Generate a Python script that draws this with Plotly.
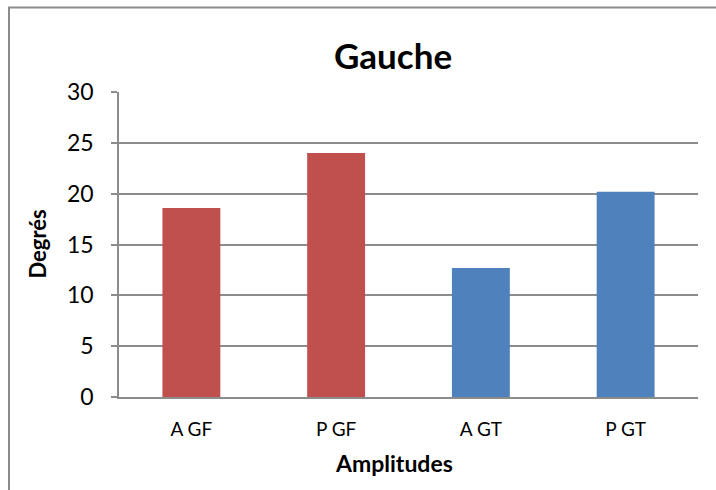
import plotly.graph_objects as go

# Data
categories = ["A GF", "P GF", "A GT", "P GT"]
values = [18.6, 24.0, 12.7, 20.2]
bar_colors = ["#C0504D", "#C0504D", "#4F81BD", "#4F81BD"]
y_ticks = [0, 5, 10, 15, 20, 25, 30]

FONT = "Lato"
GRID = "#8C8C8C"

L, R, T, B = 119, 18, 92, 93
PW = 716 - L - R
PH = 490 - T - B


def px_x(x):
    return (x - L) / PW


def px_y(y):
    return (490 - B - y) / PH


fig = go.Figure(
    go.Bar(
        x=categories,
        y=values,
        marker=dict(color=bar_colors, line=dict(width=0)),
        width=0.4,
        hoverinfo="x+y",
    )
)

fig.update_layout(
    width=716,
    height=490,
    margin=dict(l=L, r=R, t=T, b=B),
    paper_bgcolor="white",
    plot_bgcolor="white",
    showlegend=False,
    font=dict(family=FONT, color="black"),
    xaxis=dict(
        showline=True,
        linecolor=GRID,
        linewidth=1.5,
        showgrid=False,
        ticks="",
        tickfont=dict(size=19, family=FONT),
        ticklabelstandoff=14,
        fixedrange=True,
    ),
    yaxis=dict(
        range=[0, 30],
        tickvals=y_ticks,
        showline=True,
        linecolor=GRID,
        linewidth=1.5,
        showgrid=True,
        gridcolor=GRID,
        gridwidth=1.5,
        ticks="outside",
        ticklen=6,
        tickcolor=GRID,
        tickwidth=1.5,
        tickfont=dict(size=23, family=FONT),
        ticklabelstandoff=13,
        zeroline=False,
        fixedrange=True,
    ),
    shapes=[
        # chart-area frame
        dict(
            type="rect",
            xref="paper",
            yref="paper",
            x0=px_x(9),
            x1=1.2,
            y0=-0.4,
            y1=px_y(7.5),
            line=dict(color="#8C8C8C", width=2),
            fillcolor="rgba(0,0,0,0)",
            layer="below",
        )
    ],
    annotations=[
        dict(
            text="<b>Gauche</b>",
            xref="paper",
            yref="paper",
            x=px_x(393),
            y=px_y(55),
            xanchor="center",
            yanchor="middle",
            showarrow=False,
            font=dict(size=35, family=FONT),
        ),
        dict(
            text="<b>Degrés</b>",
            xref="paper",
            yref="paper",
            x=px_x(37),
            y=0.5,
            xanchor="center",
            yanchor="middle",
            textangle=-90,
            showarrow=False,
            font=dict(size=22, family=FONT),
        ),
        dict(
            text="<b>Amplitudes</b>",
            xref="paper",
            yref="paper",
            x=px_x(394),
            y=px_y(463),
            xanchor="center",
            yanchor="middle",
            showarrow=False,
            font=dict(size=23, family=FONT),
        ),
    ],
)

fig.write_html("out.html")
